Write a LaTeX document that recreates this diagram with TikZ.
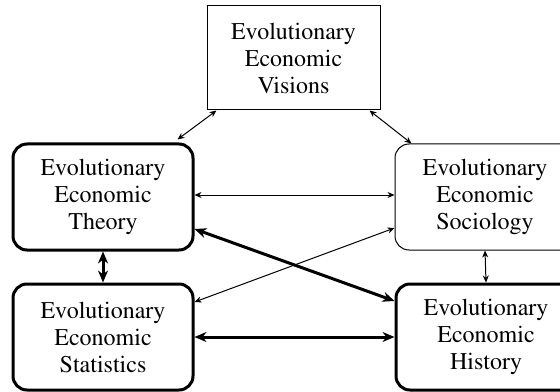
\documentclass[tikz,border=0pt]{standalone}
\usepackage[T1]{fontenc}
\usepackage{mathptmx}
\usepackage{tikz}
\usetikzlibrary{arrows.meta,positioning}

\begin{document}
\begin{tikzpicture}[
  box/.style={draw, align=center, minimum width=90pt, minimum height=53pt,
              font=\fontsize{12}{13.5}\selectfont, inner sep=2pt},
  heavybox/.style={box, rounded corners=7pt, line width=1.5pt},
  lightbox/.style={box, rounded corners=7pt, line width=0.5pt},
  thin arr/.style={{Stealth[length=3.5pt,width=3pt]}-{Stealth[length=3.5pt,width=3pt]}, line width=0.5pt},
  thick arr/.style={{Stealth[length=6pt,width=5pt]}-{Stealth[length=6pt,width=5pt]}, line width=1.5pt},
]
  \clip (0,0) rectangle (280pt,195.5pt);

  % ── Boxes ───────────────────────
  \node[heavybox] at (51.5pt,97pt) (th) {Evolutionary\\Economic\\Theory};
  \node[heavybox, below=15.5pt of th] (st) {Evolutionary\\Economic\\Statistics};
  \node[lightbox, right=100pt of th] (soc) {Evolutionary\\Economic\\Sociology};
  \node[heavybox, right=100pt of st] (hist) {Evolutionary\\Economic\\History};
  \node[box, line width=0.5pt, minimum width=86.5pt, minimum height=52pt,
        above right=16pt and 6pt of th] (vis) {Evolutionary\\Economic\\Visions};

  % ── Arrows ──────────────────────
  \draw[thin arr] ([xshift=5pt]vis.south west) -- ([xshift=-8.5pt,yshift=1.5pt]th.north east);
  \draw[thin arr] ([xshift=-5.5pt]vis.south east) -- ([xshift=8.5pt]soc.north west);
  \draw[thin arr] ([yshift=1pt]th.east) -- ([yshift=1pt]soc.west);
  \draw[thick arr] ([yshift=-16pt]th.east) -- ([yshift=18pt]hist.west);
  \draw[thin arr] ([yshift=17.5pt]st.east) -- ([yshift=-15.5pt]soc.west);
  \draw[thick arr] (th.south) -- (st.north);
  \draw[thick arr] (st.east) -- (hist.west);
  \draw[thin arr] (soc.south) -- (hist.north);
\end{tikzpicture}
\end{document}
